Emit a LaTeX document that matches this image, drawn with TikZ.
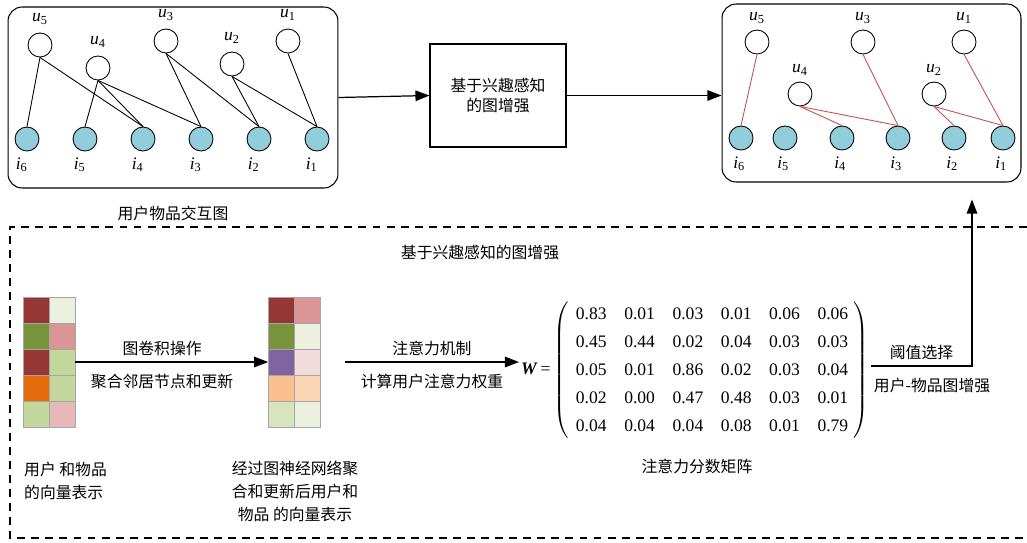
\documentclass[tikz,border=0pt]{standalone}
\usepackage{fontspec}
\setmainfont{Liberation Serif}
\newfontfamily\cjk{Noto Sans CJK SC}
\usetikzlibrary{positioning,arrows.meta}

\definecolor{itemblue}{HTML}{92CDDC}
\definecolor{edgered}{HTML}{C0504D}
\definecolor{cdred}{HTML}{953735}
\definecolor{colive}{HTML}{77933C}
\definecolor{corange}{HTML}{E46C0A}
\definecolor{clgreen}{HTML}{C3D69B}
\definecolor{cpgreen}{HTML}{EBF1DE}
\definecolor{cmgreen}{HTML}{D7E4BD}
\definecolor{cpink}{HTML}{D99694}
\definecolor{clpink}{HTML}{E6B9B8}
\definecolor{cvlpink}{HTML}{F2DCDB}
\definecolor{cpurple}{HTML}{8064A2}
\definecolor{cpeach}{HTML}{FAC090}
\definecolor{clpeach}{HTML}{FCD5B5}

\tikzset{
  user/.style={circle,draw,line width=0.5pt,minimum size=0.48cm,inner sep=0pt,fill=white},
  item/.style={user,fill=itemblue},
  cn/.style={font=\cjk\fontsize{9}{13}\selectfont},
  lab/.style={font=\fontsize{10}{12}\selectfont},
  arr/.style={line width=0.7pt,-{Triangle[length=8pt,width=6pt]}},
  cellbox/.style={draw=gray!70,line width=0.4pt},
  frame/.style={line width=0.7pt,dash pattern=on 4.5pt off 3.5pt}
}

\begin{document}
\begin{tikzpicture}[x=0.02cm,y=-0.02cm]
  \useasboundingbox (0,0) rectangle (1027,542);

  %% user-item interaction graph (left)
  \node (lbox) [draw,line width=0.6pt,rounded corners=8pt,minimum width=6.6cm,minimum height=3.62cm] at (173,97.5) {};
  \node [cn] at (173,213) {用户物品交互图};

  \node [user,label={[lab,label distance=1pt]above:\textit{u}\textsubscript{5}}] (lu5) at (40,45) {};
  \node [user,label={[lab,label distance=1pt]above:\textit{u}\textsubscript{4}}] (lu4) at (98,68) {};
  \node [user,label={[lab,label distance=1pt]above:\textit{u}\textsubscript{3}}] (lu3) at (166,41) {};
  \node [user,label={[lab,label distance=1pt]above:\textit{u}\textsubscript{2}}] (lu2) at (232,64) {};
  \node [user,label={[lab,label distance=1pt]above:\textit{u}\textsubscript{1}}] (lu1) at (288,41) {};

  \node [item,label={[lab,xshift=-3pt]below:\textit{i}\textsubscript{6}}] (li6) at (27,139) {};
  \node [item,label={[lab,xshift=-3pt]below:\textit{i}\textsubscript{5}}] (li5) at (85,139) {};
  \node [item,label={[lab,xshift=-3pt]below:\textit{i}\textsubscript{4}}] (li4) at (143,139) {};
  \node [item,label={[lab,xshift=-3pt]below:\textit{i}\textsubscript{3}}] (li3) at (201,139) {};
  \node [item,label={[lab,xshift=-3pt]below:\textit{i}\textsubscript{2}}] (li2) at (259,139) {};
  \node [item,label={[lab,xshift=-3pt]below:\textit{i}\textsubscript{1}}] (li1) at (317,139) {};

  \foreach \u/\i in {lu5/li6,lu5/li4,lu4/li5,lu4/li4,lu4/li3,lu3/li3,lu3/li2,lu2/li2,lu2/li1,lu1/li1}
    \draw [line width=0.5pt] (\u.south) -- (\i.north);

  %% graph enhancement box
  \node (interest) [draw,line width=0.6pt,cn,align=center,font=\cjk\fontsize{9}{11}\selectfont,
    minimum width=2.72cm,minimum height=2.06cm] at (498,95.5) {基于兴趣感知\\的图增强};

  %% enhanced graph (right)
  \node (rbox) [draw,line width=0.6pt,rounded corners=8pt,minimum width=5.98cm,minimum height=3.56cm] at (871.5,93) {};

  \node [user,label={[lab,label distance=0pt]above:\textit{u}\textsubscript{5}}] (ru5) at (757,42) {};
  \node [user,label={[lab,label distance=0pt]above:\textit{u}\textsubscript{3}}] (ru3) at (863,42) {};
  \node [user,label={[lab,label distance=0pt]above:\textit{u}\textsubscript{1}}] (ru1) at (964,42) {};
  \node [user,label={[lab,label distance=0pt]above:\textit{u}\textsubscript{4}}] (ru4) at (800,94) {};
  \node [user,label={[lab,label distance=0pt]above:\textit{u}\textsubscript{2}}] (ru2) at (934,94) {};

  \node [item,label={[lab,xshift=-1pt]below:\textit{i}\textsubscript{6}}] (ri6) at (741,138) {};
  \node [item,label={[lab,xshift=-1pt]below:\textit{i}\textsubscript{5}}] (ri5) at (785,138) {};
  \node [item,label={[lab,xshift=-1pt]below:\textit{i}\textsubscript{4}}] (ri4) at (842,138) {};
  \node [item,label={[lab,xshift=-1pt]below:\textit{i}\textsubscript{3}}] (ri3) at (898,138) {};
  \node [item,label={[lab,xshift=-1pt]below:\textit{i}\textsubscript{2}}] (ri2) at (954,138) {};
  \node [item,label={[lab,xshift=-1pt]below:\textit{i}\textsubscript{1}}] (ri1) at (1003,138) {};

  \foreach \u/\i in {ru5/ri6,ru3/ri3,ru1/ri1,ru4/ri4,ru4/ri3,ru2/ri2,ru2/ri1}
    \draw [edgered,line width=0.5pt] (\u.south) -- (\i.north);

  \draw [arr] (lbox.east) -- (interest.west);
  \draw [arr] (interest.east) -- (interest.east -| rbox.west);

  %% dashed frame
  \draw [frame] (1027,227) -- (10,227) -- (10,538) -- (1027,538);
  \node [cn] at (480,253) {基于兴趣感知的图增强};

  %% embedding blocks
  \node (embin) [inner sep=0pt,minimum width=1.04cm,minimum height=2.6cm] at (49,362) {};
  \node (embout) [inner sep=0pt,minimum width=1.04cm,minimum height=2.6cm] at (294.5,362) {};
  \foreach \ca/\cb [count=\r from 0] in {cdred/cpgreen,colive/cpink,cdred/clgreen,corange/clgreen,clgreen/clpink} {
    \filldraw [cellbox,fill=\ca] (23,297) ++(0,26*\r) rectangle ++(26,26);
    \filldraw [cellbox,fill=\cb] (49,297) ++(0,26*\r) rectangle ++(26,26);
  }
  \foreach \ca/\cb [count=\r from 0] in {cdred/cpink,colive/cpgreen,cpurple/cvlpink,cpeach/clpeach,cmgreen/cpgreen} {
    \filldraw [cellbox,fill=\ca] (268,297) ++(0,26*\r) rectangle ++(26,26);
    \filldraw [cellbox,fill=\cb] (294,297) ++(0,26*\r) rectangle ++(26,26);
  }

  \draw [arr] (embin.east) -- node[pos=0.45,above,cn] {图卷积操作}
    node[pos=0.45,below=3pt,cn] {聚合邻居节点和更新} (embout.west);

  \node [cn,align=left,anchor=north west] at (18,456) {用户 和物品\\的向量表示};
  \node [cn,align=center,anchor=north] at (295,455) {经过图神经网络聚\\合和更新后用户和\\物品 的向量表示};

  %% attention matrix
  \coordinate (attn) at (345,362);
  \node (Wmat) [lab,inner sep=1pt,anchor=west] at (519,370) {%
    \textbf{\textit{W}}\,=\,$\left(\vcenter{\hbox{\setlength\tabcolsep{5pt}\renewcommand\arraystretch{1.33}%
    \begin{tabular}{@{\hspace{4pt}}cccccc@{\hspace{3pt}}}
      0.83 & 0.01 & 0.03 & 0.01 & 0.06 & 0.06 \\
      0.45 & 0.44 & 0.02 & 0.04 & 0.03 & 0.03 \\
      0.05 & 0.01 & 0.86 & 0.02 & 0.03 & 0.04 \\
      0.02 & 0.00 & 0.47 & 0.48 & 0.03 & 0.01 \\
      0.04 & 0.04 & 0.04 & 0.08 & 0.01 & 0.79
    \end{tabular}}}\right)$};
  \draw [arr] (attn) -- node[above,cn] {注意力机制}
    node[below=3pt,cn] {计算用户注意力权重} (attn -| Wmat.west);
  \node [cn] at (697,466) {注意力分数矩阵};

  %% threshold selection back to the graph
  \coordinate (turn) at (972,366);
  \draw [arr,shorten >=0.34cm] (Wmat.east |- turn) -- node[above,cn] {阈值选择}
    node[below=3pt,cn,xshift=6pt] {用户-物品图增强} (turn) -- (turn |- rbox.south);
\end{tikzpicture}
\end{document}
